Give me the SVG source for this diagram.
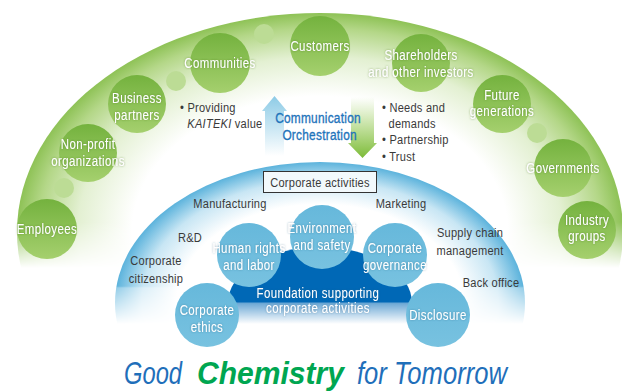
<svg xmlns="http://www.w3.org/2000/svg" width="622" height="391" viewBox="0 0 622 391">
  <defs>
    <style>
      text { font-family: "Liberation Sans", Arial, sans-serif; }
      .gw { fill: #ffffff; font-size: 14px; text-anchor: middle; letter-spacing: 0.5px; filter: url(#haloG); }
      .bw { fill: #ffffff; font-size: 14px; text-anchor: middle; letter-spacing: 0.5px; filter: url(#haloB); }
      .dk { fill: #3a3a3a; font-size: 13.5px; letter-spacing: 0.3px; }
      .mid { text-anchor: middle; }
      .comm { fill: #1f74bb; font-size: 14.5px; text-anchor: middle; letter-spacing: 0.3px; stroke: #1f74bb; stroke-width: 0.35px; }
      .slogan { font-size: 32px; font-style: italic; fill: #1f6fba; }
      .gnode { fill: url(#ballGreen); }
      .bnode { fill: url(#ballBlue); }
      .dot { fill: #bcdc95; }
    </style>
    <!-- soft halo behind white labels -->
    <filter id="haloG" x="-20%" y="-40%" width="140%" height="180%">
      <feGaussianBlur in="SourceAlpha" stdDeviation="1.1" result="b"/>
      <feFlood flood-color="#3f6a1c" flood-opacity="0.55"/>
      <feComposite in2="b" operator="in" result="s"/>
      <feMerge><feMergeNode in="s"/><feMergeNode in="SourceGraphic"/></feMerge>
    </filter>
    <filter id="haloB" x="-20%" y="-40%" width="140%" height="180%">
      <feGaussianBlur in="SourceAlpha" stdDeviation="1.1" result="b"/>
      <feFlood flood-color="#2a5d80" flood-opacity="0.5"/>
      <feComposite in2="b" operator="in" result="s"/>
      <feMerge><feMergeNode in="s"/><feMergeNode in="SourceGraphic"/></feMerge>
    </filter>
    <radialGradient id="rimGreen" cx="0.5" cy="0.5" r="0.5">
      <stop offset="0.62" stop-color="#ffffff"/>
      <stop offset="0.8" stop-color="#e3f0d2"/>
      <stop offset="0.93" stop-color="#b4d788"/>
      <stop offset="1" stop-color="#8ec256"/>
    </radialGradient>
    <radialGradient id="rimBlue" cx="0.5" cy="0.5" r="0.5">
      <stop offset="0.7" stop-color="#ffffff"/>
      <stop offset="0.87" stop-color="#c8e6f4"/>
      <stop offset="1" stop-color="#5cb3dc"/>
    </radialGradient>
    <linearGradient id="ballGreen" x1="0" y1="0" x2="0" y2="1">
      <stop offset="0" stop-color="#74b23e"/>
      <stop offset="1" stop-color="#a5d06e"/>
    </linearGradient>
    <linearGradient id="ballBlue" x1="0" y1="0" x2="0" y2="1">
      <stop offset="0" stop-color="#66b8db"/>
      <stop offset="1" stop-color="#78c2e0"/>
    </linearGradient>
    <linearGradient id="fadeGreen" gradientUnits="userSpaceOnUse" x1="0" y1="222" x2="0" y2="268">
      <stop offset="0" stop-color="#ffffff"/>
      <stop offset="1" stop-color="#000000"/>
    </linearGradient>
    <!-- dome: lighter below the horizon line, then gone -->
    <linearGradient id="fadeDome" gradientUnits="userSpaceOnUse" x1="0" y1="280" x2="0" y2="324">
      <stop offset="0.14" stop-color="#ffffff"/>
      <stop offset="0.18" stop-color="#a8a8a8"/>
      <stop offset="1" stop-color="#000000"/>
    </linearGradient>
    <linearGradient id="fadeBase" gradientUnits="userSpaceOnUse" x1="0" y1="296" x2="0" y2="324">
      <stop offset="0.2" stop-color="#ffffff"/>
      <stop offset="0.27" stop-color="#909090"/>
      <stop offset="1" stop-color="#000000"/>
    </linearGradient>
    <mask id="mGreen"><rect width="622" height="391" fill="url(#fadeGreen)"/></mask>
    <mask id="mDome"><rect width="622" height="391" fill="url(#fadeDome)"/></mask>
    <mask id="mBase"><rect width="622" height="391" fill="url(#fadeBase)"/></mask>
    <linearGradient id="upFill" x1="0" y1="0" x2="0" y2="1">
      <stop offset="0" stop-color="#8dcbe6"/>
      <stop offset="1" stop-color="#8dcbe6" stop-opacity="0"/>
    </linearGradient>
    <linearGradient id="downFill" x1="0" y1="0" x2="0" y2="1">
      <stop offset="0" stop-color="#8cc63f" stop-opacity="0"/>
      <stop offset="1" stop-color="#7cbb38"/>
    </linearGradient>
  </defs>

  <rect width="622" height="391" fill="#ffffff"/>

  <!-- outer stakeholder band -->
  <g id="stakeholder-band" mask="url(#mGreen)">
    <ellipse cx="320" cy="232" rx="303" ry="219" fill="url(#rimGreen)"/>
  </g>

  <!-- small decorative dots on the band -->
  <g id="band-dots">
    <circle class="dot" cx="64" cy="188" r="10"/>
    <circle class="dot" cx="176" cy="81" r="10"/>
    <circle class="dot" cx="264" cy="34" r="10"/>
    <circle class="dot" cx="537" cy="133" r="10"/>
  </g>

  <!-- inner corporate-activities dome -->
  <g id="activities-dome" mask="url(#mDome)">
    <ellipse cx="320" cy="303" rx="205" ry="141" fill="url(#rimBlue)"/>
  </g>
  <g id="foundation-base" mask="url(#mBase)">
    <path d="M228,330 L228,303 A92,56 0 0 1 412,303 L412,330 Z" fill="#0068b6"/>
  </g>

  <!-- connectors -->
  <g id="connectors">
    <polygon points="274.5,96 287,111 284,111 284,156 265,156 265,111 262,111" fill="url(#upFill)"/>
    <polygon points="351,97 374,97 374,143 377,143 362.5,158 348,143 351,143" fill="url(#downFill)"/>
  </g>

  <!-- stakeholder nodes -->
  <g id="employees"><circle class="gnode" cx="47" cy="229" r="30"/>
    <text class="gw" transform="translate(47 234) scale(0.82 1)">Employees</text></g>
  <g id="non-profit"><circle class="gnode" cx="88" cy="153" r="29"/>
    <text class="gw" transform="translate(88 149) scale(0.82 1)"><tspan x="0" y="0">Non-profit</tspan><tspan x="0" y="17">organizations</tspan></text></g>
  <g id="business-partners"><circle class="gnode" cx="137" cy="104" r="29"/>
    <text class="gw" transform="translate(137 103) scale(0.82 1)"><tspan x="0" y="0">Business</tspan><tspan x="0" y="17">partners</tspan></text></g>
  <g id="communities"><circle class="gnode" cx="220" cy="63" r="30"/>
    <text class="gw" transform="translate(220 68) scale(0.82 1)">Communities</text></g>
  <g id="customers"><circle class="gnode" cx="320" cy="46" r="30"/>
    <text class="gw" transform="translate(320 51) scale(0.82 1)">Customers</text></g>
  <g id="shareholders"><circle class="gnode" cx="421" cy="63" r="29"/>
    <text class="gw" transform="translate(421 60) scale(0.82 1)"><tspan x="0" y="0">Shareholders</tspan><tspan x="0" y="17">and other investors</tspan></text></g>
  <g id="future-generations"><circle class="gnode" cx="502" cy="104" r="29"/>
    <text class="gw" transform="translate(502 100) scale(0.82 1)"><tspan x="0" y="0">Future</tspan><tspan x="0" y="16">generations</tspan></text></g>
  <g id="governments"><circle class="gnode" cx="563" cy="168" r="29"/>
    <text class="gw" transform="translate(563 173) scale(0.82 1)">Governments</text></g>
  <g id="industry-groups"><circle class="gnode" cx="587" cy="230" r="29"/>
    <text class="gw" transform="translate(587 225) scale(0.82 1)"><tspan x="0" y="0">Industry</tspan><tspan x="0" y="16">groups</tspan></text></g>

  <!-- flow texts -->
  <g id="value-text">
    <text class="dk" transform="translate(180 112) scale(0.82 1)"><tspan x="0" y="0">• Providing</tspan><tspan x="9" y="16"><tspan font-style="italic">KAITEKI</tspan> value</tspan></text>
  </g>
  <g id="orchestration-text">
    <text class="comm" transform="translate(318 123) scale(0.82 1)"><tspan x="0" y="0">Communication</tspan><tspan x="2" y="17">Orchestration</tspan></text>
  </g>
  <g id="needs-text">
    <text class="dk" transform="translate(382 112) scale(0.82 1)"><tspan x="0" y="0">• Needs and</tspan><tspan x="8" y="16">demands</tspan><tspan x="0" y="32">• Partnership</tspan><tspan x="0" y="49">• Trust</tspan></text>
  </g>

  <!-- corporate activities -->
  <g id="corporate-activities">
    <rect x="263.5" y="171.5" width="113" height="21" fill="#f2f9fc" stroke="#333333" stroke-width="1"/>
    <text class="dk mid" transform="translate(320 187) scale(0.82 1)">Corporate activities</text>
  </g>
  <g id="activity-labels">
    <text class="dk mid" transform="translate(230 208) scale(0.82 1)">Manufacturing</text>
    <text class="dk mid" transform="translate(401 208) scale(0.82 1)">Marketing</text>
    <text class="dk mid" transform="translate(190 242) scale(0.82 1)">R&amp;D</text>
    <text class="dk mid" transform="translate(156 265) scale(0.82 1)"><tspan x="0" y="0">Corporate</tspan><tspan x="0" y="18">citizenship</tspan></text>
    <text class="dk mid" transform="translate(470 237) scale(0.82 1)"><tspan x="0" y="0">Supply chain</tspan><tspan x="0" y="18">management</tspan></text>
    <text class="dk mid" transform="translate(491 287) scale(0.82 1)">Back office</text>
  </g>

  <!-- foundation label -->
  <g id="foundation">
    <text class="bw" transform="translate(318 298) scale(0.82 1)"><tspan x="0" y="0">Foundation supporting</tspan><tspan x="0" y="15">corporate activities</tspan></text>
  </g>

  <!-- foundation nodes -->
  <g id="human-rights"><circle class="bnode" cx="249" cy="255" r="32"/>
    <text class="bw" transform="translate(249 253) scale(0.82 1)"><tspan x="0" y="0">Human rights</tspan><tspan x="0" y="17">and labor</tspan></text></g>
  <g id="environment"><circle class="bnode" cx="322" cy="237" r="32"/>
    <text class="bw" transform="translate(322 233) scale(0.82 1)"><tspan x="0" y="0">Environment</tspan><tspan x="0" y="17">and safety</tspan></text></g>
  <g id="governance"><circle class="bnode" cx="395" cy="255" r="32"/>
    <text class="bw" transform="translate(395 253) scale(0.82 1)"><tspan x="0" y="0">Corporate</tspan><tspan x="0" y="17">governance</tspan></text></g>
  <g id="ethics"><circle class="bnode" cx="207" cy="315" r="32"/>
    <text class="bw" transform="translate(207 315) scale(0.82 1)"><tspan x="0" y="0">Corporate</tspan><tspan x="0" y="17">ethics</tspan></text></g>
  <g id="disclosure"><circle class="bnode" cx="438" cy="315" r="32"/>
    <text class="bw" transform="translate(438 320) scale(0.82 1)">Disclosure</text></g>

  <!-- slogan -->
  <g id="slogan">
    <text class="slogan" x="124" y="384" textLength="58" lengthAdjust="spacingAndGlyphs">Good</text>
    <text class="slogan" x="197" y="384" font-weight="bold" textLength="147" lengthAdjust="spacingAndGlyphs" style="fill:#00a651">Chemistry</text>
    <text class="slogan" x="357" y="384" textLength="150" lengthAdjust="spacingAndGlyphs">for Tomorrow</text>
  </g>
</svg>
